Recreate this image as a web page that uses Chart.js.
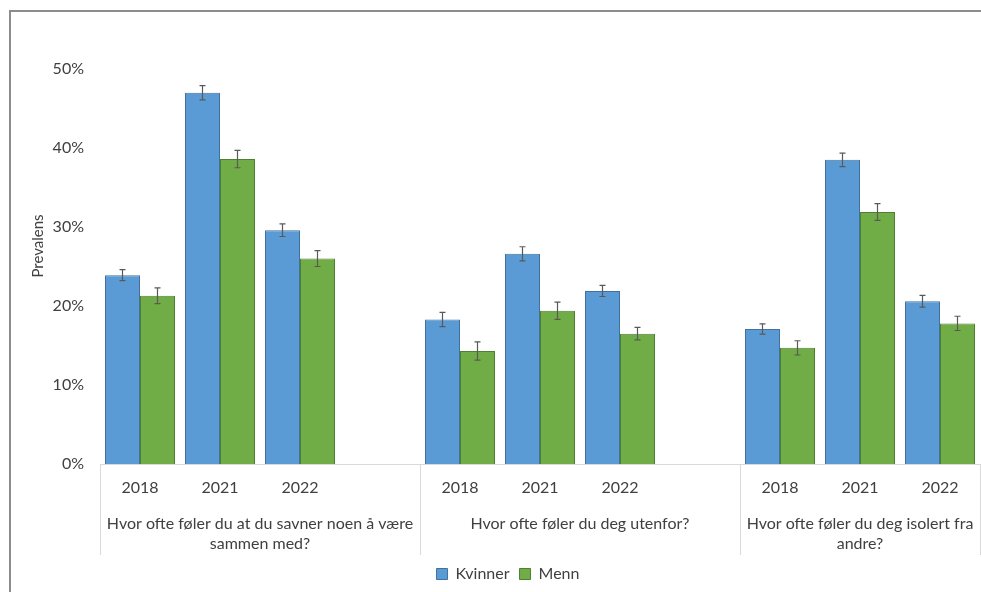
<!DOCTYPE html>
<html>
<head>
<meta charset="utf-8">
<script src="https://cdn.jsdelivr.net/npm/chart.js@4/dist/chart.umd.min.js"></script>
<style>
  html, body { margin: 0; padding: 0; background: #fff; overflow: hidden; }
  #wrap { position: relative; width: 981px; height: 592px; }
  #frame { position: absolute; left: 9px; top: 10px; width: 1100px; height: 700px;
           border: 2px solid #8c8c8c; box-sizing: border-box; pointer-events: none; }
  canvas { position: absolute; left: 0; top: 0; }
</style>
</head>
<body>
<div id="wrap">
  <canvas id="chart" width="981" height="592"></canvas>
  <div id="frame"></div>
</div>
<script>
// Years per question, with an empty slot separating the question groups
const categories = ["2018", "2021", "2022", "", "2018", "2021", "2022", "", "2018", "2021", "2022"];

// Question labels (one entry per line) and the category index range each spans
const groupLabels = [
  ["Hvor ofte føler du at du savner noen å være", "sammen med?"],
  ["Hvor ofte føler du deg utenfor?"],
  ["Hvor ofte føler du deg isolert fra", "andre?"]
];
const groupStart = [0, 4, 8];
const groupEnd = [3, 7, 10];

// Prevalence (%) by sex
const kvinner = [23.9, 47.0, 29.6, null, 18.3, 26.6, 21.9, null, 17.1, 38.5, 20.6];
const menn    = [21.3, 38.6, 26.0, null, 14.3, 19.4, 16.5, null, 14.7, 31.9, 17.8];

// Half-width of the confidence interval (percentage points)
const kvinnerErr = [0.7, 0.9, 0.8, null, 0.9, 0.9, 0.7, null, 0.65, 0.85, 0.75];
const mennErr    = [1.0, 1.1, 1.0, null, 1.15, 1.1, 0.8, null, 0.9, 1.05, 0.9];

const yTicks = [0, 10, 20, 30, 40, 50];
const yTitle = "Prevalens";

const FONT = "Lato, 'Open Sans', sans-serif";
const TEXT = "#404040";

// Error bars drawn through the y scale for each bar
const errorBars = {
  id: "errorBars",
  afterDatasetsDraw(chart) {
    const ctx = chart.ctx;
    const y = chart.scales.y;
    chart.data.datasets.forEach((ds, di) => {
      const meta = chart.getDatasetMeta(di);
      meta.data.forEach((bar, i) => {
        const v = ds.data[i], e = ds.errors[i];
        if (v == null || e == null) return;
        const yTop = y.getPixelForValue(v + e);
        const yBot = y.getPixelForValue(v - e);
        ctx.save();
        ctx.strokeStyle = "#595959";
        ctx.lineWidth = 1.2;
        ctx.beginPath();
        ctx.moveTo(bar.x, yTop); ctx.lineTo(bar.x, yBot);
        ctx.moveTo(bar.x - 3, yTop); ctx.lineTo(bar.x + 3, yTop);
        ctx.moveTo(bar.x - 3, yBot); ctx.lineTo(bar.x + 3, yBot);
        ctx.stroke();
        ctx.restore();
      });
    });
  }
};

// Two-level category axis: separators between questions and the question labels
const groupAxis = {
  id: "groupAxis",
  afterDraw(chart) {
    const ctx = chart.ctx;
    const x = chart.scales.x;
    const half = (x.getPixelForValue(1) - x.getPixelForValue(0)) / 2;
    const bottom = chart.chartArea.bottom;
    ctx.save();
    ctx.strokeStyle = "#d9d9d9";
    ctx.lineWidth = 1;
    const edges = [x.getPixelForValue(0) - half];
    groupEnd.forEach(g => edges.push(x.getPixelForValue(g) + half));
    ctx.beginPath();
    edges.forEach(px => {
      const p = Math.round(px) + 0.5;
      ctx.moveTo(p, bottom); ctx.lineTo(p, bottom + 91);
    });
    ctx.stroke();

    ctx.fillStyle = TEXT;
    ctx.font = "16px " + FONT;
    ctx.textAlign = "center";
    ctx.textBaseline = "middle";
    groupLabels.forEach((lines, g) => {
      const cx = (x.getPixelForValue(groupStart[g]) - half + x.getPixelForValue(groupEnd[g]) + half) / 2;
      lines.forEach((line, li) => ctx.fillText(line, cx, bottom + 60 + li * 20));
    });

    // Vertical axis title
    ctx.font = "15px " + FONT;
    ctx.translate(38, 246);
    ctx.rotate(-Math.PI / 2);
    ctx.fillText(yTitle, 0, 0);
    ctx.restore();
  }
};

// Centre the legend under the full chart frame
const legendShift = {
  id: "legendShift",
  afterLayout(chart) {
    if (chart.legend) { chart.legend.left += 13; chart.legend.right += 13; }
  }
};

new Chart(document.getElementById("chart"), {
  type: "bar",
  data: {
    labels: categories,
    datasets: [
      { label: "Kvinner", data: kvinner, errors: kvinnerErr,
        backgroundColor: "#5b9bd5", borderColor: "#41719c", borderWidth: 1 },
      { label: "Menn", data: menn, errors: mennErr,
        backgroundColor: "#70ad47", borderColor: "#507e32", borderWidth: 1 }
    ]
  },
  options: {
    responsive: false,
    animation: false,
    events: [],
    layout: { padding: { left: 10, right: 1, top: 69, bottom: 0 } },
    datasets: { bar: { categoryPercentage: 0.875, barPercentage: 1.0 } },
    scales: {
      x: {
        grid: { display: false, drawTicks: false },
        border: { display: true, color: "#d9d9d9", width: 1 },
        ticks: { color: TEXT, font: { family: FONT, size: 16 }, padding: 14, maxRotation: 0, autoSkip: false },
        afterFit(scale) { scale.height = 92; }
      },
      y: {
        min: 0, max: 50,
        grid: { display: false, drawTicks: false },
        border: { display: false },
        afterBuildTicks(scale) { scale.ticks = yTicks.map(v => ({ value: v })); },
        ticks: { color: TEXT, font: { family: FONT, size: 16 }, padding: 16, callback: v => v + "%" },
        afterFit(scale) { scale.width = 90; }
      }
    },
    plugins: {
      legend: {
        position: "bottom",
        labels: { color: TEXT, font: { family: FONT, size: 16 }, boxWidth: 11, boxHeight: 11, padding: 10 }
      },
      tooltip: { enabled: false }
    }
  },
  plugins: [errorBars, groupAxis, legendShift]
});
</script>
</body>
</html>
